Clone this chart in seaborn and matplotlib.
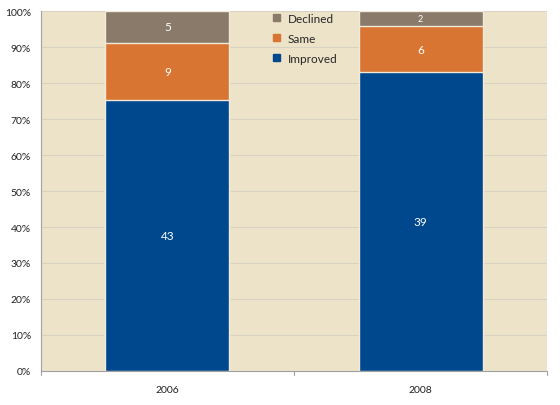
import matplotlib
matplotlib.use("Agg")
import matplotlib.pyplot as plt
import seaborn as sns
import pandas as pd
from matplotlib.patches import Patch

years = ["2006", "2008"]
improved = [43, 39]
same = [9, 6]
declined = [5, 2]

totals = [a + b + c for a, b, c in zip(improved, same, declined)]
imp_pct = [a / t * 100 for a, t in zip(improved, totals)]
same_pct = [b / t * 100 for b, t in zip(same, totals)]
dec_pct = [c / t * 100 for c, t in zip(declined, totals)]

df = pd.DataFrame({
    "year": years,
    "improved_top": imp_pct,
    "same_top": [a + b for a, b in zip(imp_pct, same_pct)],
    "declined_top": [a + b + c for a, b, c in zip(imp_pct, same_pct, dec_pct)],
})

c_imp = "#00488E"
c_same = "#D97532"
c_dec = "#8A7A6A"
bg = "#EDE3C9"

sns.set_style("white")
plt.rcParams["font.family"] = ["Lato", "DejaVu Sans"]

fig, ax = plt.subplots(figsize=(5.6, 4.06), dpi=100)
fig.subplots_adjust(left=0.073, right=0.977, top=0.97, bottom=0.084)
ax.set_facecolor(bg)

# stacked by layering cumulative heights
for col, color in [("declined_top", c_dec), ("same_top", c_same), ("improved_top", c_imp)]:
    sns.barplot(data=df, x="year", y=col, color=color, width=0.49,
                edgecolor="#F2EAD8", linewidth=1.0, ax=ax, zorder=3, saturation=1)

# segment labels
for i in range(len(years)):
    ax.text(i, imp_pct[i] / 2, str(improved[i]), ha="center", va="center",
            color="white", fontsize=8.5, zorder=5)
    ax.text(i, imp_pct[i] + same_pct[i] / 2, str(same[i]), ha="center", va="center",
            color="white", fontsize=8.5, zorder=5)
    ax.text(i, imp_pct[i] + same_pct[i] + dec_pct[i] / 2, str(declined[i]),
            ha="center", va="center", color="white",
            fontsize=8.5 if declined[i] > 3 else 6.5, zorder=5)

ax.set_ylim(0, 100)
ax.set_xlim(-0.5, 1.5)
ax.set_yticks(range(0, 101, 10))
ax.set_yticklabels([f"{v}%" for v in range(0, 101, 10)], fontsize=7.5, color="#222222")
ax.set_xticks([0, 1])
ax.set_xticklabels(years, fontsize=7.5, color="#222222")
ax.set_xlabel("")
ax.set_ylabel("")
ax.yaxis.grid(True, color="#D8D2C2", linewidth=0.8, zorder=0)
ax.set_axisbelow(True)

for s in ["top", "right"]:
    ax.spines[s].set_visible(False)
ax.spines["left"].set_color("#A0A0A0")
ax.spines["bottom"].set_color("#A0A0A0")
ax.tick_params(axis="y", length=3, color="#A0A0A0", pad=4)
ax.tick_params(axis="x", length=0, pad=10)
# category boundary ticks on x axis
for xb in [-0.5, 0.5, 1.5]:
    ax.plot([xb, xb], [0, -1.2], color="#A0A0A0", linewidth=0.8, clip_on=False)

handles = [Patch(color=c_dec, label="Declined"),
           Patch(color=c_same, label="Same"),
           Patch(color=c_imp, label="Improved")]
leg = ax.legend(handles=handles, loc="upper left", bbox_to_anchor=(0.438, 1.025),
                frameon=False, fontsize=8.5, handlelength=0.55, handleheight=0.55,
                handletextpad=0.7, labelspacing=0.75)
leg.set_zorder(6)

fig.savefig("out.png", dpi=100)
